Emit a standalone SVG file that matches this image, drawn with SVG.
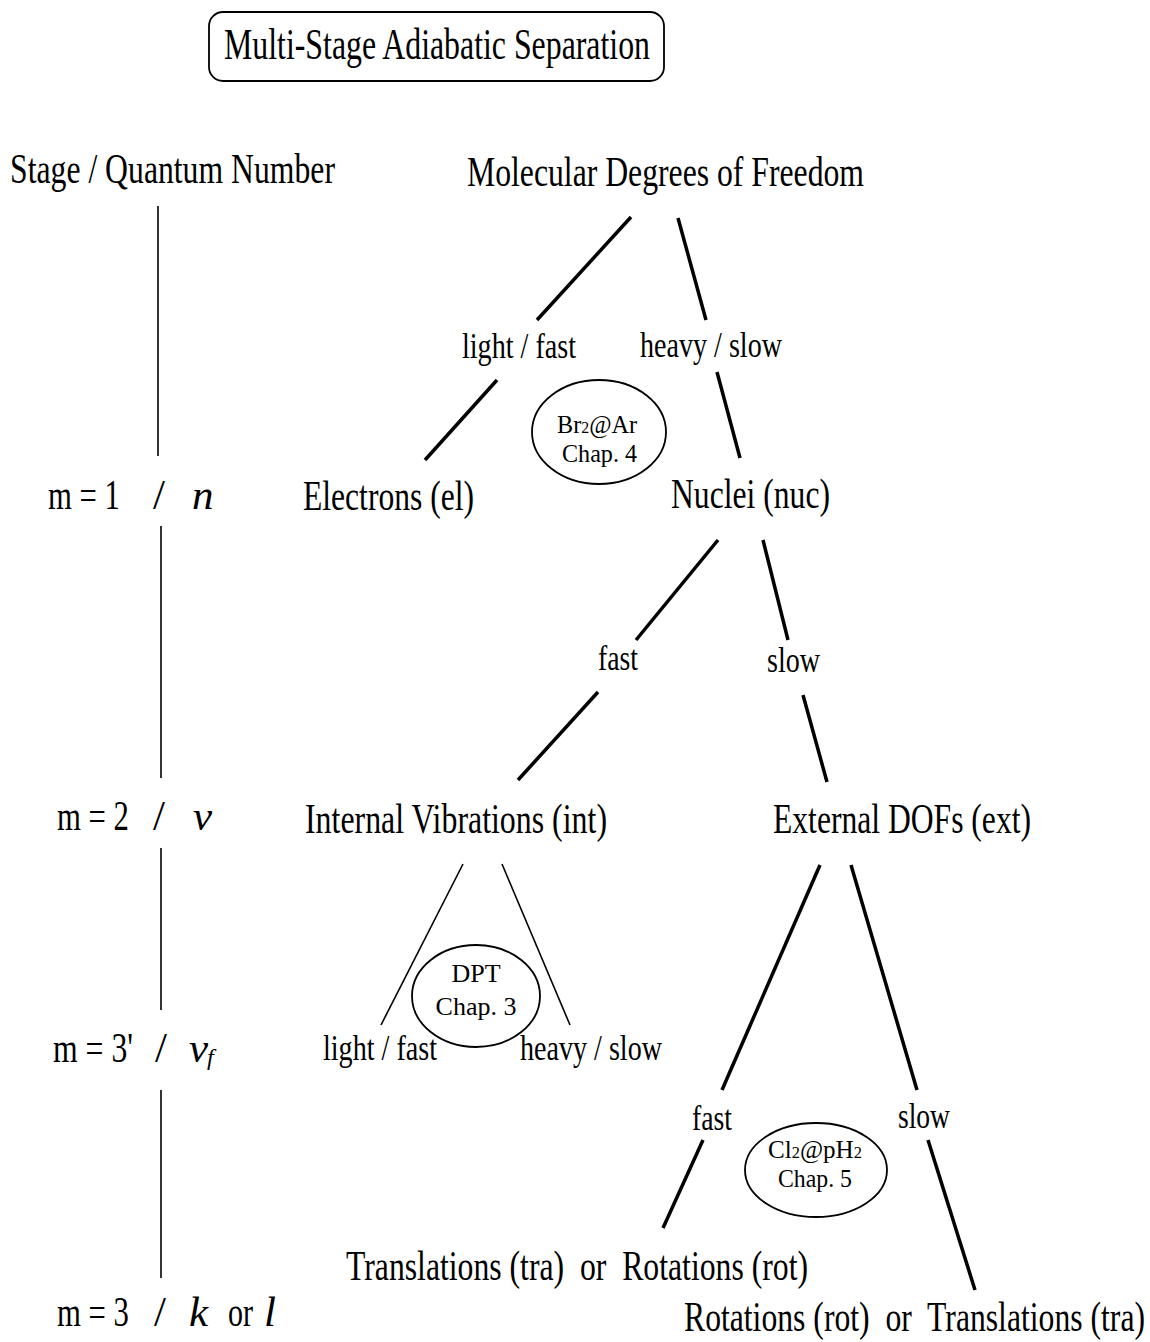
<svg xmlns="http://www.w3.org/2000/svg" width="1150" height="1342" viewBox="0 0 1150 1342">
<style>
text{font-family:"Liberation Serif","Times New Roman",serif;fill:#000;white-space:pre}
.big{font-size:43px}
.title{font-size:45px}
.lab{font-size:36px}
.ell{font-size:26px}
.it{font-style:italic}
.thick{stroke:#000;stroke-width:3.5;fill:none;stroke-linecap:butt}
.thin{stroke:#000;stroke-width:1.6;fill:none}
.node{fill:#fff;stroke:#000;stroke-width:1.8}
</style>
<rect width="1150" height="1342" fill="#fff"/>
<g id="title">
<rect class="node" x="209" y="12" width="455" height="69" rx="14"/>
<text class="title" x="224" y="59" textLength="426" lengthAdjust="spacingAndGlyphs">Multi-Stage Adiabatic Separation</text>
</g>
<g id="stage-header"><text class="big" x="10" y="183" textLength="325" lengthAdjust="spacingAndGlyphs">Stage / Quantum Number</text></g>
<g id="stage-m1">
<text class="big" y="509"><tspan x="48" textLength="72" lengthAdjust="spacingAndGlyphs">m = 1</tspan><tspan x="153">/</tspan><tspan x="192" class="it">n</tspan></text>
</g>
<g id="stage-m2">
<text class="big" y="830"><tspan x="57" textLength="72" lengthAdjust="spacingAndGlyphs">m = 2</tspan><tspan x="153">/</tspan><tspan x="193" class="it">v</tspan></text>
</g>
<g id="stage-m3p">
<text class="big" y="1062"><tspan x="53" textLength="80" lengthAdjust="spacingAndGlyphs">m = 3'</tspan><tspan x="155">/</tspan><tspan x="189" class="it">v</tspan><tspan x="207" dy="3" class="it" font-size="24">f</tspan></text>
</g>
<g id="stage-m3">
<text class="big" y="1326"><tspan x="57" textLength="72" lengthAdjust="spacingAndGlyphs">m = 3</tspan><tspan x="154">/</tspan><tspan x="189" class="it">k</tspan><tspan x="228" textLength="25" lengthAdjust="spacingAndGlyphs">or</tspan><tspan x="264" class="it">l</tspan></text>
</g>
<g id="molecular"><text class="big" x="467" y="186" textLength="397" lengthAdjust="spacingAndGlyphs">Molecular Degrees of Freedom</text></g>
<g id="electrons"><text class="big" x="303" y="510" textLength="171" lengthAdjust="spacingAndGlyphs">Electrons (el)</text></g>
<g id="nuclei"><text class="big" x="671" y="508" textLength="159" lengthAdjust="spacingAndGlyphs">Nuclei (nuc)</text></g>
<g id="internal"><text class="big" x="305" y="833" textLength="302" lengthAdjust="spacingAndGlyphs">Internal Vibrations (int)</text></g>
<g id="external"><text class="big" x="773" y="833" textLength="258" lengthAdjust="spacingAndGlyphs">External DOFs (ext)</text></g>
<g id="int-light"><text class="lab" x="323" y="1060" textLength="114" lengthAdjust="spacingAndGlyphs">light / fast</text></g>
<g id="int-heavy"><text class="lab" x="520" y="1060" textLength="142" lengthAdjust="spacingAndGlyphs">heavy / slow</text></g>
<g id="tra-rot"><text class="big" x="346" y="1280" textLength="462" lengthAdjust="spacingAndGlyphs">Translations (tra)  or  Rotations (rot)</text></g>
<g id="rot-tra"><text class="big" x="684" y="1331" textLength="461" lengthAdjust="spacingAndGlyphs">Rotations (rot)  or  Translations (tra)</text></g>
<g id="br2ar">
<ellipse class="node" cx="599" cy="432" rx="67" ry="52"/>
<text class="ell" x="557" y="433" textLength="80" lengthAdjust="spacingAndGlyphs">Br<tspan font-size="17">2</tspan>@Ar</text>
<text class="ell" x="562" y="462" textLength="75" lengthAdjust="spacingAndGlyphs">Chap. 4</text>
</g>
<g id="dpt">
<ellipse class="node" cx="476" cy="996" rx="64" ry="51" fill="none"/>
<text class="ell" x="476" y="982" text-anchor="middle" font-size="28">DPT</text>
<text class="ell" x="476" y="1015" text-anchor="middle" font-size="28">Chap. 3</text>
</g>
<g id="cl2ph2">
<ellipse class="node" cx="816" cy="1170" rx="71" ry="47"/>
<text class="ell" x="768" y="1158" textLength="94" lengthAdjust="spacingAndGlyphs">Cl<tspan font-size="17">2</tspan>@pH<tspan font-size="17">2</tspan></text>
<text class="ell" x="778" y="1187" textLength="74" lengthAdjust="spacingAndGlyphs">Chap. 5</text>
</g>
<g id="connectors">
<line class="thin" x1="158" y1="206" x2="158" y2="456"/>
<line class="thin" x1="161" y1="526" x2="161" y2="778"/>
<line class="thin" x1="161" y1="848" x2="161" y2="1010"/>
<line class="thin" x1="161" y1="1090" x2="161" y2="1278"/>
<line class="thick" x1="631" y1="217" x2="537" y2="320"/>
<line class="thick" x1="497" y1="380" x2="425" y2="460"/>
<line class="thick" x1="678" y1="218" x2="706" y2="320"/>
<line class="thick" x1="717" y1="372" x2="740" y2="458"/>
<line class="thick" x1="718" y1="540" x2="636" y2="640"/>
<line class="thick" x1="598" y1="692" x2="518" y2="780"/>
<line class="thick" x1="763" y1="540" x2="788" y2="640"/>
<line class="thick" x1="803" y1="695" x2="827" y2="782"/>
<line class="thick" x1="820" y1="865" x2="722" y2="1090"/>
<line class="thick" x1="703" y1="1140" x2="663" y2="1228"/>
<line class="thick" x1="851" y1="865" x2="917" y2="1090"/>
<line class="thick" x1="928" y1="1140" x2="975" y2="1290"/>
<line class="thin" x1="463" y1="864" x2="381" y2="1025"/>
<line class="thin" x1="502" y1="864" x2="570" y2="1025"/>
<text class="lab" x="462" y="358" textLength="114" lengthAdjust="spacingAndGlyphs">light / fast</text>
<text class="lab" x="640" y="357" textLength="142" lengthAdjust="spacingAndGlyphs">heavy / slow</text>
<text class="lab" x="598" y="670" textLength="40" lengthAdjust="spacingAndGlyphs">fast</text>
<text class="lab" x="767" y="672" textLength="53" lengthAdjust="spacingAndGlyphs">slow</text>
<text class="lab" x="692" y="1130" textLength="40" lengthAdjust="spacingAndGlyphs">fast</text>
<text class="lab" x="898" y="1128" textLength="52" lengthAdjust="spacingAndGlyphs">slow</text>
</g>
</svg>
